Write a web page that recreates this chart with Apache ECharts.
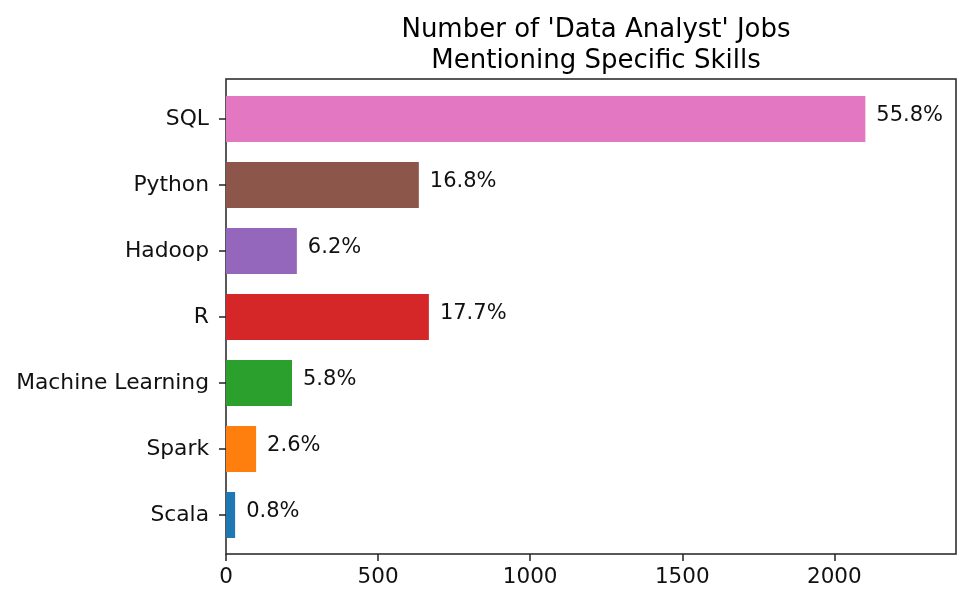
<!DOCTYPE html>
<html>
<head>
<meta charset="utf-8">
<script src="https://cdn.jsdelivr.net/npm/echarts@6/dist/echarts.min.js"></script>
<style>html,body{margin:0;padding:0;background:#fff}#c{width:975px;height:607px}</style>
</head>
<body>
<div id="c"></div>
<script>
var skills = ['Scala', 'Spark', 'Machine Learning', 'R', 'Hadoop', 'Python', 'SQL'];
var jobCounts = [30, 99, 217, 667, 233, 634, 2102];
var percentLabels = ['0.8%', '2.6%', '5.8%', '17.7%', '6.2%', '16.8%', '55.8%'];
var barColors = ['#1f77b4', '#ff7f0e', '#2ca02c', '#d62728', '#9467bd', '#8c564b', '#e377c2'];
var xTicks = [0, 500, 1000, 1500, 2000];

var font = 'DejaVu Sans';
var chart = echarts.init(document.getElementById('c'), null, {renderer: 'canvas'});
chart.setOption({
  animation: false,
  backgroundColor: '#fff',
  title: {
    text: "Number of 'Data Analyst' Jobs\nMentioning Specific Skills",
    left: 591, top: 10, textAlign: 'center',
    textStyle: {fontFamily: font, fontSize: 26, fontWeight: 'normal', color: '#000', lineHeight: 31}
  },
  grid: [
    {left: 226, right: 975 - 956, top: 79, bottom: 607 - 554, show: true, borderColor: '#222', borderWidth: 1.5, backgroundColor: 'transparent'},
    {left: 226, right: 975 - 956, top: 86, bottom: 607 - 548, show: false}
  ],
  xAxis: [
    {gridIndex: 0, type: 'value', min: 0, max: 2400, interval: 500,
     axisLine: {show: false}, splitLine: {show: false},
     axisTick: {show: true, length: 7, customValues: xTicks, lineStyle: {color: '#222', width: 1.5}},
     axisLabel: {fontFamily: font, fontSize: 21.5, color: '#111', margin: 12, customValues: xTicks,
       formatter: function (v) { return String(v); }}},
    {gridIndex: 1, type: 'value', min: 0, max: 2400, show: false}
  ],
  yAxis: [
    {gridIndex: 0, type: 'value', show: false},
    {gridIndex: 1, type: 'category', data: skills,
     axisLine: {show: false}, splitLine: {show: false},
     axisTick: {show: true, alignWithLabel: true, length: 7, lineStyle: {color: '#222', width: 1.5}},
     axisLabel: {fontFamily: font, fontSize: 21.8, color: '#111', margin: 17}}
  ],
  series: [{
    type: 'bar',
    xAxisIndex: 1, yAxisIndex: 1,
    barWidth: 46,
    data: jobCounts.map(function (v, i) {
      return {value: v, itemStyle: {color: barColors[i]}};
    }),
    label: {
      show: true, position: 'right', distance: 11, offset: [0, -3],
      fontFamily: font, fontSize: 21, color: '#111',
      formatter: function (p) { return percentLabels[p.dataIndex]; }
    }
  }]
});
</script>
</body>
</html>
